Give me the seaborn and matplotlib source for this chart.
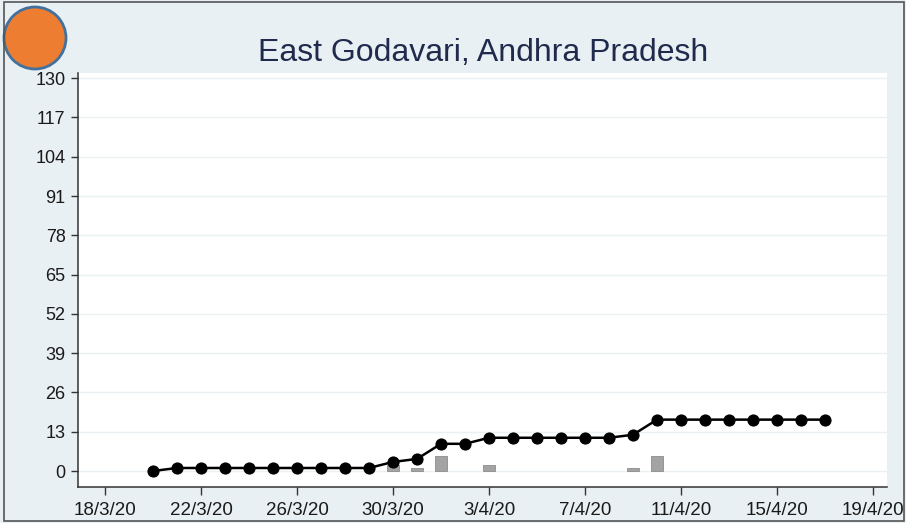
import matplotlib
matplotlib.use("Agg")
import matplotlib.pyplot as plt
import matplotlib.dates as mdates
from matplotlib.patches import Circle, Rectangle
import seaborn as sns
import pandas as pd

# ---- data ----
dates = pd.date_range("2020-03-20", "2020-04-17", freq="D")
cumulative = [0, 1, 1, 1, 1, 1, 1, 1, 1, 1, 3, 4, 9, 9, 11, 11, 11, 11, 11, 11, 12,
              17, 17, 17, 17, 17, 17, 17, 17]
bar_dates = pd.to_datetime(["2020-03-30", "2020-03-31", "2020-04-01", "2020-04-03",
                            "2020-04-09", "2020-04-10"])
bar_values = [2, 1, 5, 2, 1, 5]
y_ticks = [0, 13, 26, 39, 52, 65, 78, 91, 104, 117, 130]
x_tick_dates = pd.date_range("2020-03-18", "2020-04-19", freq="4D")
x_tick_labels = ["18/3/20", "22/3/20", "26/3/20", "30/3/20", "3/4/20", "7/4/20",
                 "11/4/20", "15/4/20", "19/4/20"]
title = "East Godavari, Andhra Pradesh"

df = pd.DataFrame({"date": dates, "cases": cumulative})

sns.set_style("white")
plt.rcParams["font.family"] = ["Liberation Sans", "DejaVu Sans"]

bg = "#e9f0f3"
fig = plt.figure(figsize=(9.06, 5.23), dpi=100, facecolor=bg)
ax = fig.add_axes([0.0861, 0.0688, 0.979 - 0.0861, 0.8604 - 0.0688])
ax.set_facecolor("white")

# grid
for yt in y_ticks:
    ax.axhline(yt, color="#eaf0f3", lw=1.0, zorder=0)

ax.bar(bar_dates, bar_values, width=0.5, color="#a3a3a3", edgecolor="#8c8c8c",
       linewidth=0.6, zorder=2)
sns.lineplot(data=df, x="date", y="cases", ax=ax, color="black", lw=1.8,
             marker="o", markersize=8, markeredgecolor="black", zorder=3)

x0 = pd.Timestamp("2020-03-18")
ax.set_xlim(x0 - pd.Timedelta(days=1.125), x0 + pd.Timedelta(days=32.58))
ax.set_ylim(-5.3, 131.7)
ax.set_yticks(y_ticks)
ax.set_yticklabels([str(v) for v in y_ticks])
ax.set_xticks(x_tick_dates)
ax.set_xticklabels(x_tick_labels)
ax.set_xlabel("")
ax.set_ylabel("")

for s in ["top", "right"]:
    ax.spines[s].set_visible(False)
for s in ["left", "bottom"]:
    ax.spines[s].set_color("#333333")
    ax.spines[s].set_linewidth(1.1)

ax.tick_params(axis="y", direction="out", length=5, width=1, color="#333333",
               labelsize=13, pad=4, labelcolor="#1a1a1a", left=True)
ax.tick_params(axis="x", direction="out", length=6, width=1, color="#333333",
               labelsize=13.5, pad=5, labelcolor="#1a1a1a", bottom=True)

fig.text(0.533, 0.898, title, ha="center", va="center", fontsize=23,
         color="#1f2a4d")

# orange circle at top-left
fig.add_artist(Circle((0.35, 4.85), 0.31, transform=fig.dpi_scale_trans,
                      facecolor="#ed7d31", edgecolor="#41719c", lw=2))
# thin frame round the figure
fig.add_artist(Rectangle((0.004, 0.004), 0.994, 0.992, transform=fig.transFigure,
                         fill=False, edgecolor="#555555", lw=1.2))

fig.savefig("out.png", dpi=100, facecolor=bg)
